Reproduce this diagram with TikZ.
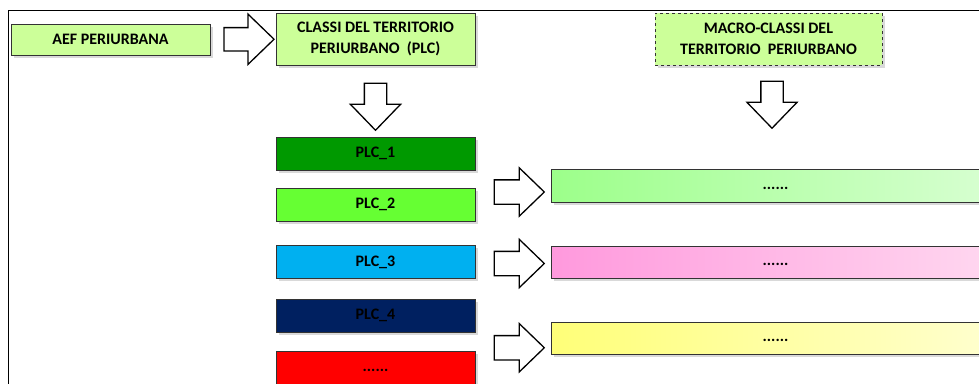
\documentclass[tikz,border=0pt]{standalone}
\usepackage{fontspec}
\setmainfont{Carlito}
\usetikzlibrary{shapes.arrows,shadows,calc}
\definecolor{lgreen}{HTML}{CCFF99}
\definecolor{plcA}{HTML}{009900}
\definecolor{plcB}{HTML}{66FF33}
\definecolor{plcC}{HTML}{00B0F0}
\definecolor{plcD}{HTML}{002060}
\definecolor{plcE}{HTML}{FF0000}
\definecolor{mgA}{HTML}{9CFF8A}
\definecolor{mgB}{HTML}{D8FFD2}
\definecolor{mpA}{HTML}{FF99DD}
\definecolor{mpB}{HTML}{FFD8F0}
\definecolor{myA}{HTML}{FFFF78}
\definecolor{myB}{HTML}{FFFFD0}
\newcommand{\mydots}{\vphantom{a}......}
\begin{document}
\begin{tikzpicture}[x=1pt,y=-1pt,
  box/.style={draw=black!80, line width=0.9pt, inner sep=0pt, align=center,
    font=\bfseries\fontsize{16}{21}\selectfont,
    drop shadow={shadow xshift=2.5pt, shadow yshift=-2.5pt, opacity=0.3}},
  plcbox/.style={box, minimum width=199pt, minimum height=33pt},
  mbox/.style={box, minimum width=449pt, minimum height=33pt},
  barrow/.style={single arrow, draw=black, fill=white, line width=1.3pt,
    inner xsep=0pt, single arrow tip angle=88, anchor=center},
  rarrow/.style={barrow, inner ysep=11.5pt, minimum height=50pt, single arrow head extend=12pt},
  darrow/.style={barrow, rotate=-90, inner ysep=10.5pt, minimum height=47pt, single arrow head extend=14pt}]
\useasboundingbox (0,0) rectangle (979,383);
\begin{scope}
\clip (0,0) rectangle (979,383);
% frame
\draw[line width=1.5pt] (8.5,400) -- (8.5,10.5) -- (990,10.5);
% top row
\node[box, fill=lgreen, minimum width=199pt, minimum height=31pt] (aef) at (110.5,39.5) {AEF PERIURBANA};
\node[box, fill=lgreen, minimum width=199pt, minimum height=52pt] (classi) at (375.5,39) {CLASSI DEL TERRITORIO\\PERIURBANO~ (PLC)};
\node[box, fill=lgreen, dashed, minimum width=227pt, minimum height=52pt] (macro) at (768.5,39) {MACRO-CLASSI DEL\\TERRITORIO~ PERIURBANO};
% PLC column
\node[plcbox, fill=plcA] (plc1) at (375.5,153.5) {PLC\_1};
\node[plcbox, fill=plcB] (plc2) at (375.5,204.5) {PLC\_2};
\node[plcbox, fill=plcC] (plc3) at (375.5,262) {PLC\_3};
\node[plcbox, fill=plcD] (plc4) at (375.5,315.5) {PLC\_4};
\node[plcbox, fill=plcE] (plc5) at (375.5,367.5) {\mydots};
% macro column
\node[mbox, left color=mgA, right color=mgB] (m1) at (775.5,185.5) {\mydots};
\node[mbox, left color=mpA, right color=mpB, minimum height=32pt] (m2) at (775.5,262) {\mydots};
\node[mbox, left color=myA, right color=myB, minimum height=32pt] (m3) at (775.5,338) {\mydots};
% block arrows
\node[rarrow, inner ysep=11pt, single arrow head extend=13.5pt] (a1) at ($(aef.east)!0.5!(classi.west)$) {};
\node[darrow] (d1) at ($(classi.south)!0.5!(plc1.north)$) {};
\node[darrow] (d2) at ($(macro.south)+(3.5,33.5)$) {};
\node[rarrow] (r1) at ($(plc2.east)!0.5!(m1.west)+(0,-3)$) {};
\node[rarrow] (r2) at ($(plc3.east)!0.5!(m2.west)+(0,1.5)$) {};
\node[rarrow] (r3) at ($(plc4.east)!0.5!(m3.west)+(0,21)$) {};
\end{scope}
\end{tikzpicture}
\end{document}
